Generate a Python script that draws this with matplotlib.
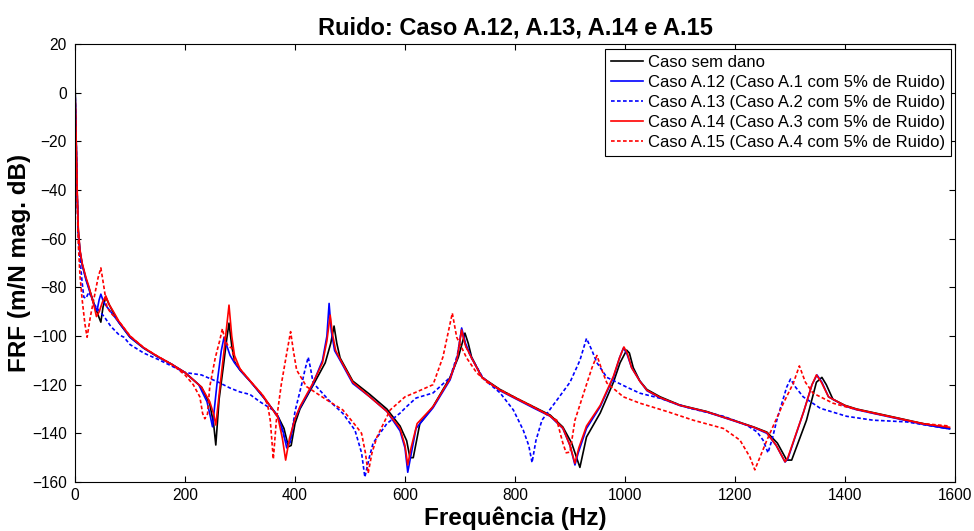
import matplotlib
matplotlib.use("Agg")
import matplotlib.pyplot as plt

plt.rcParams['font.family'] = ['Liberation Sans', 'DejaVu Sans']

# Caso sem dano (preto)
f_ref = [0, 2, 4, 6, 9, 13, 20, 25, 35, 43, 47, 51, 56, 62, 70, 80, 100, 125, 150, 175, 200, 230, 245, 252, 256, 262, 270, 276, 280, 285, 290, 300, 320, 342, 369, 380, 388, 393, 400, 409, 431, 455, 465, 471, 476, 482, 505, 536, 567, 591, 603, 609, 615, 627, 651, 682, 697, 709, 715, 721, 740, 773, 803, 833, 864, 887, 903, 912, 918, 930, 955, 979, 991, 1003, 1008, 1015, 1027, 1040, 1064, 1100, 1148, 1197, 1234, 1258, 1277, 1294, 1303, 1330, 1348, 1358, 1366, 1378, 1400, 1421, 1482, 1542, 1590]
db_ref = [6, -18, -42, -57, -65, -70.5, -76.5, -80, -87, -92, -94.3, -88, -84, -87, -90.5, -94.5, -100.5, -105, -108.5, -111.5, -115, -121, -128, -136, -144.8, -126, -112, -101, -94.7, -104, -110.5, -114, -119, -125, -133, -138, -145.5, -145, -136, -130, -121, -111, -103, -95.9, -103, -109, -118.5, -124, -130, -137, -143, -150, -150, -136, -129, -117, -108.7, -98.8, -103, -108.6, -117, -122, -125.6, -129, -132.5, -137.4, -144, -150, -154, -141.5, -131.6, -119, -111, -105.8, -107, -113, -118.5, -122, -125, -128.4, -131, -134.6, -137.4, -139.5, -144, -151, -151, -134.6, -119, -117, -120, -126, -128.5, -130, -133, -136, -138]

# Caso A.12 (azul)
f_a12 = [0, 2, 4, 6, 9, 13, 20, 25, 35, 40, 44, 47, 52, 58, 65, 80, 100, 125, 150, 175, 200, 225, 240, 246, 250, 258, 266, 271, 276, 282, 290, 300, 320, 342, 369, 378, 385, 390, 398, 409, 431, 450, 458, 462, 466, 472, 482, 505, 536, 567, 591, 600, 605, 610, 620, 651, 682, 695, 703, 710, 721, 740, 773, 803, 833, 864, 887, 900, 909, 915, 930, 955, 979, 990, 997, 1003, 1012, 1027, 1040, 1064, 1100, 1148, 1197, 1234, 1258, 1275, 1291, 1296, 1325, 1340, 1349, 1358, 1370, 1400, 1421, 1482, 1542, 1590]
db_a12 = [3, -18, -42, -57, -65, -70.5, -77, -80.5, -87.5, -89.6, -85, -82.8, -86, -88, -90, -94.5, -100.5, -105, -108.5, -111.5, -115, -120, -127, -133, -137.3, -120, -106, -100.5, -104, -108, -111, -114, -119, -125, -133, -139, -146, -144, -135, -129.5, -120.5, -110, -100, -86.6, -98, -106, -110, -119.5, -125, -131, -139, -146, -156, -150, -138, -129.5, -118, -109, -96.7, -103, -109, -117, -122.5, -126, -129.5, -133, -138, -145, -153, -148, -138, -129, -117, -109, -105, -107, -113, -118.5, -122.5, -125.5, -128.6, -131.2, -134.8, -137.6, -140, -145, -151.8, -150.5, -131, -120, -116, -119, -125, -128.8, -130.3, -133.3, -136.3, -138.2]

# Caso A.13 (azul tracejado)
f_a13 = [0, 2, 4, 6, 9, 13, 16, 20, 25, 30, 35, 45, 53, 65, 80, 89, 100, 125, 150, 180, 200, 230, 260, 282, 300, 318, 336, 360, 370, 378, 386, 392, 400, 412, 418, 424, 428, 433, 464, 487, 509, 521, 527, 535, 542, 567, 591, 603, 620, 651, 682, 695, 703, 710, 721, 740, 749, 773, 797, 815, 825, 831, 838, 849, 876, 900, 918, 930, 940, 949, 967, 1003, 1027, 1064, 1118, 1179, 1221, 1240, 1251, 1260, 1268, 1276, 1294, 1301, 1310, 1324, 1355, 1403, 1451, 1512, 1585]
db_a13 = [3, -18, -42, -58, -68, -78, -84, -84.5, -82, -84, -87, -90, -92, -96, -99.5, -100.5, -103.5, -107, -109.5, -112.8, -115, -116, -118.9, -121.4, -123, -124, -127, -130.4, -134, -140, -144.5, -143.5, -131, -120, -114, -108.7, -113, -119.3, -127, -131.8, -138.7, -148, -158, -150, -144, -136, -131.7, -129, -125.5, -123.4, -117, -108, -97.5, -104, -109, -116.5, -118.8, -123.4, -130.4, -138.7, -145, -152, -143, -134.6, -126.4, -119, -110, -101, -106, -111, -117, -121, -123.5, -125.6, -129.7, -133, -136.6, -139.4, -142.8, -148, -142, -134.6, -121, -117.7, -121, -125, -129.7, -133, -134.6, -135.3, -138]

# Caso A.14 (vermelho)
f_a14 = [0, 2, 4, 6, 9, 13, 20, 25, 35, 39, 44, 50, 56, 62, 70, 80, 100, 125, 150, 175, 200, 230, 245, 252, 256, 264, 272, 280, 285, 290, 300, 320, 342, 369, 377, 383, 390, 400, 409, 431, 450, 458, 464, 468, 474, 482, 505, 536, 567, 591, 600, 605, 611, 622, 651, 682, 695, 703, 710, 721, 740, 773, 803, 833, 864, 887, 900, 909, 916, 930, 955, 979, 990, 998, 1004, 1012, 1027, 1040, 1064, 1100, 1148, 1197, 1234, 1258, 1275, 1291, 1296, 1325, 1340, 1348, 1357, 1370, 1400, 1421, 1482, 1542, 1590]
db_a14 = [1, -18, -40, -56, -64.5, -70, -76, -79.5, -88, -92, -90, -86, -83.5, -87, -90, -94, -100, -104.8, -108.3, -111.5, -115, -121, -127, -132, -136.6, -120, -104, -87.3, -100, -108, -113.5, -118.8, -124.5, -133.5, -142, -151, -142, -134, -129, -120, -111, -102, -91.4, -99, -106, -109.5, -119, -125, -131, -138, -145, -153, -146, -136, -129, -117.5, -109, -97.5, -104, -109, -117, -122.3, -125.8, -129.2, -132.8, -137.8, -145, -152.3, -146, -137, -128.5, -116.5, -109, -104.5, -107, -113, -118.6, -122.3, -125.3, -128.5, -131.1, -134.7, -137.5, -139.7, -145, -151.7, -150, -131, -120, -116, -119, -125, -128.6, -130.1, -133.1, -136.1, -137.5]

# Caso A.15 (vermelho tracejado)
f_a15 = [0, 2, 4, 6, 9, 13, 18, 22, 28, 35, 42, 47, 52, 58, 65, 80, 100, 125, 150, 175, 200, 215, 227, 232, 236, 241, 245, 255, 263, 268, 272, 278, 285, 290, 300, 320, 340, 350, 355, 360.6, 366, 375, 385, 392, 397, 403, 421, 458, 487, 512, 521, 528, 533, 540, 549, 573, 600, 621, 651, 669, 686, 694, 712, 730, 749, 773, 803, 833, 864, 876, 887, 893, 900, 909, 927, 940, 949, 958, 967, 997, 1027, 1076, 1124, 1179, 1209, 1227, 1236, 1258, 1288, 1306, 1317, 1328, 1342, 1378, 1400, 1421, 1482, 1542, 1590]
db_a15 = [1, -20, -45, -62, -75, -85, -95, -100.5, -92, -84, -76, -72, -79, -88, -90.5, -94, -100, -104.8, -108.3, -111.5, -116, -120, -125, -131.8, -134, -132, -120.8, -109, -102, -97, -101, -104, -105, -110, -113.5, -119, -124, -128, -134.6, -150.6, -135, -120, -107, -98.2, -106, -114, -120.8, -126.3, -130.4, -137.3, -140, -148, -156.4, -148, -141.5, -130.4, -125, -123, -120, -108.6, -90.6, -100.5, -109, -115, -119, -122, -125.6, -129, -133, -134.6, -144, -148, -147.7, -134.6, -122, -113, -108, -114, -119.3, -125, -127.6, -131, -134.6, -138, -142.8, -149.7, -155, -142.8, -127.6, -119.4, -112.3, -119, -123.5, -127.6, -129, -130.2, -133.2, -136, -137]

legendas = ["Caso sem dano",
            "Caso A.12 (Caso A.1 com 5% de Ruido)",
            "Caso A.13 (Caso A.2 com 5% de Ruido)",
            "Caso A.14 (Caso A.3 com 5% de Ruido)",
            "Caso A.15 (Caso A.4 com 5% de Ruido)"]

fig = plt.figure(figsize=(9.74, 5.31), dpi=100)
ax = fig.add_axes([0.077, 0.0923, 0.9035, 0.8247])

lw = 1.2
tracejado = (2.2, 1.4)
ax.plot(f_ref, db_ref, color="black", lw=lw, label=legendas[0])
ax.plot(f_a12, db_a12, color="blue", lw=lw, label=legendas[1])
ax.plot(f_a13, db_a13, color="blue", lw=lw, dashes=tracejado, label=legendas[2])
ax.plot(f_a14, db_a14, color="red", lw=lw, label=legendas[3])
ax.plot(f_a15, db_a15, color="red", lw=lw, dashes=tracejado, label=legendas[4])

ax.set_xlim(0, 1600)
ax.set_ylim(-160, 20)
ax.set_xticks(range(0, 1601, 200))
ax.set_yticks(range(-160, 21, 20))
ax.tick_params(direction="in", length=4, width=0.8, top=True, right=True, labelsize=11.2)
ax.tick_params(axis="y", pad=6)
ax.tick_params(axis="x", pad=4)
for s in ax.spines.values():
    s.set_linewidth(0.8)

ax.set_title("Ruido: Caso A.12, A.13, A.14 e A.15", fontsize=17, fontweight="bold", pad=7)
ax.set_xlabel("Frequência (Hz)", fontsize=17.5, fontweight="bold")
ax.set_ylabel("FRF (m/N mag. dB)", fontsize=17.5, fontweight="bold")
ax.xaxis.set_label_coords(0.5, -0.055)
ax.yaxis.set_label_coords(-0.05, 0.5)

leg = ax.legend(loc="upper right", bbox_to_anchor=(0.995, 0.989), borderaxespad=0,
                fontsize=12, handlelength=1.9, handletextpad=0.3, labelspacing=0.3,
                borderpad=0.35, fancybox=False, framealpha=1)
leg.get_frame().set_edgecolor("black")
leg.get_frame().set_linewidth(0.8)

fig.savefig("out.png", dpi=100)
